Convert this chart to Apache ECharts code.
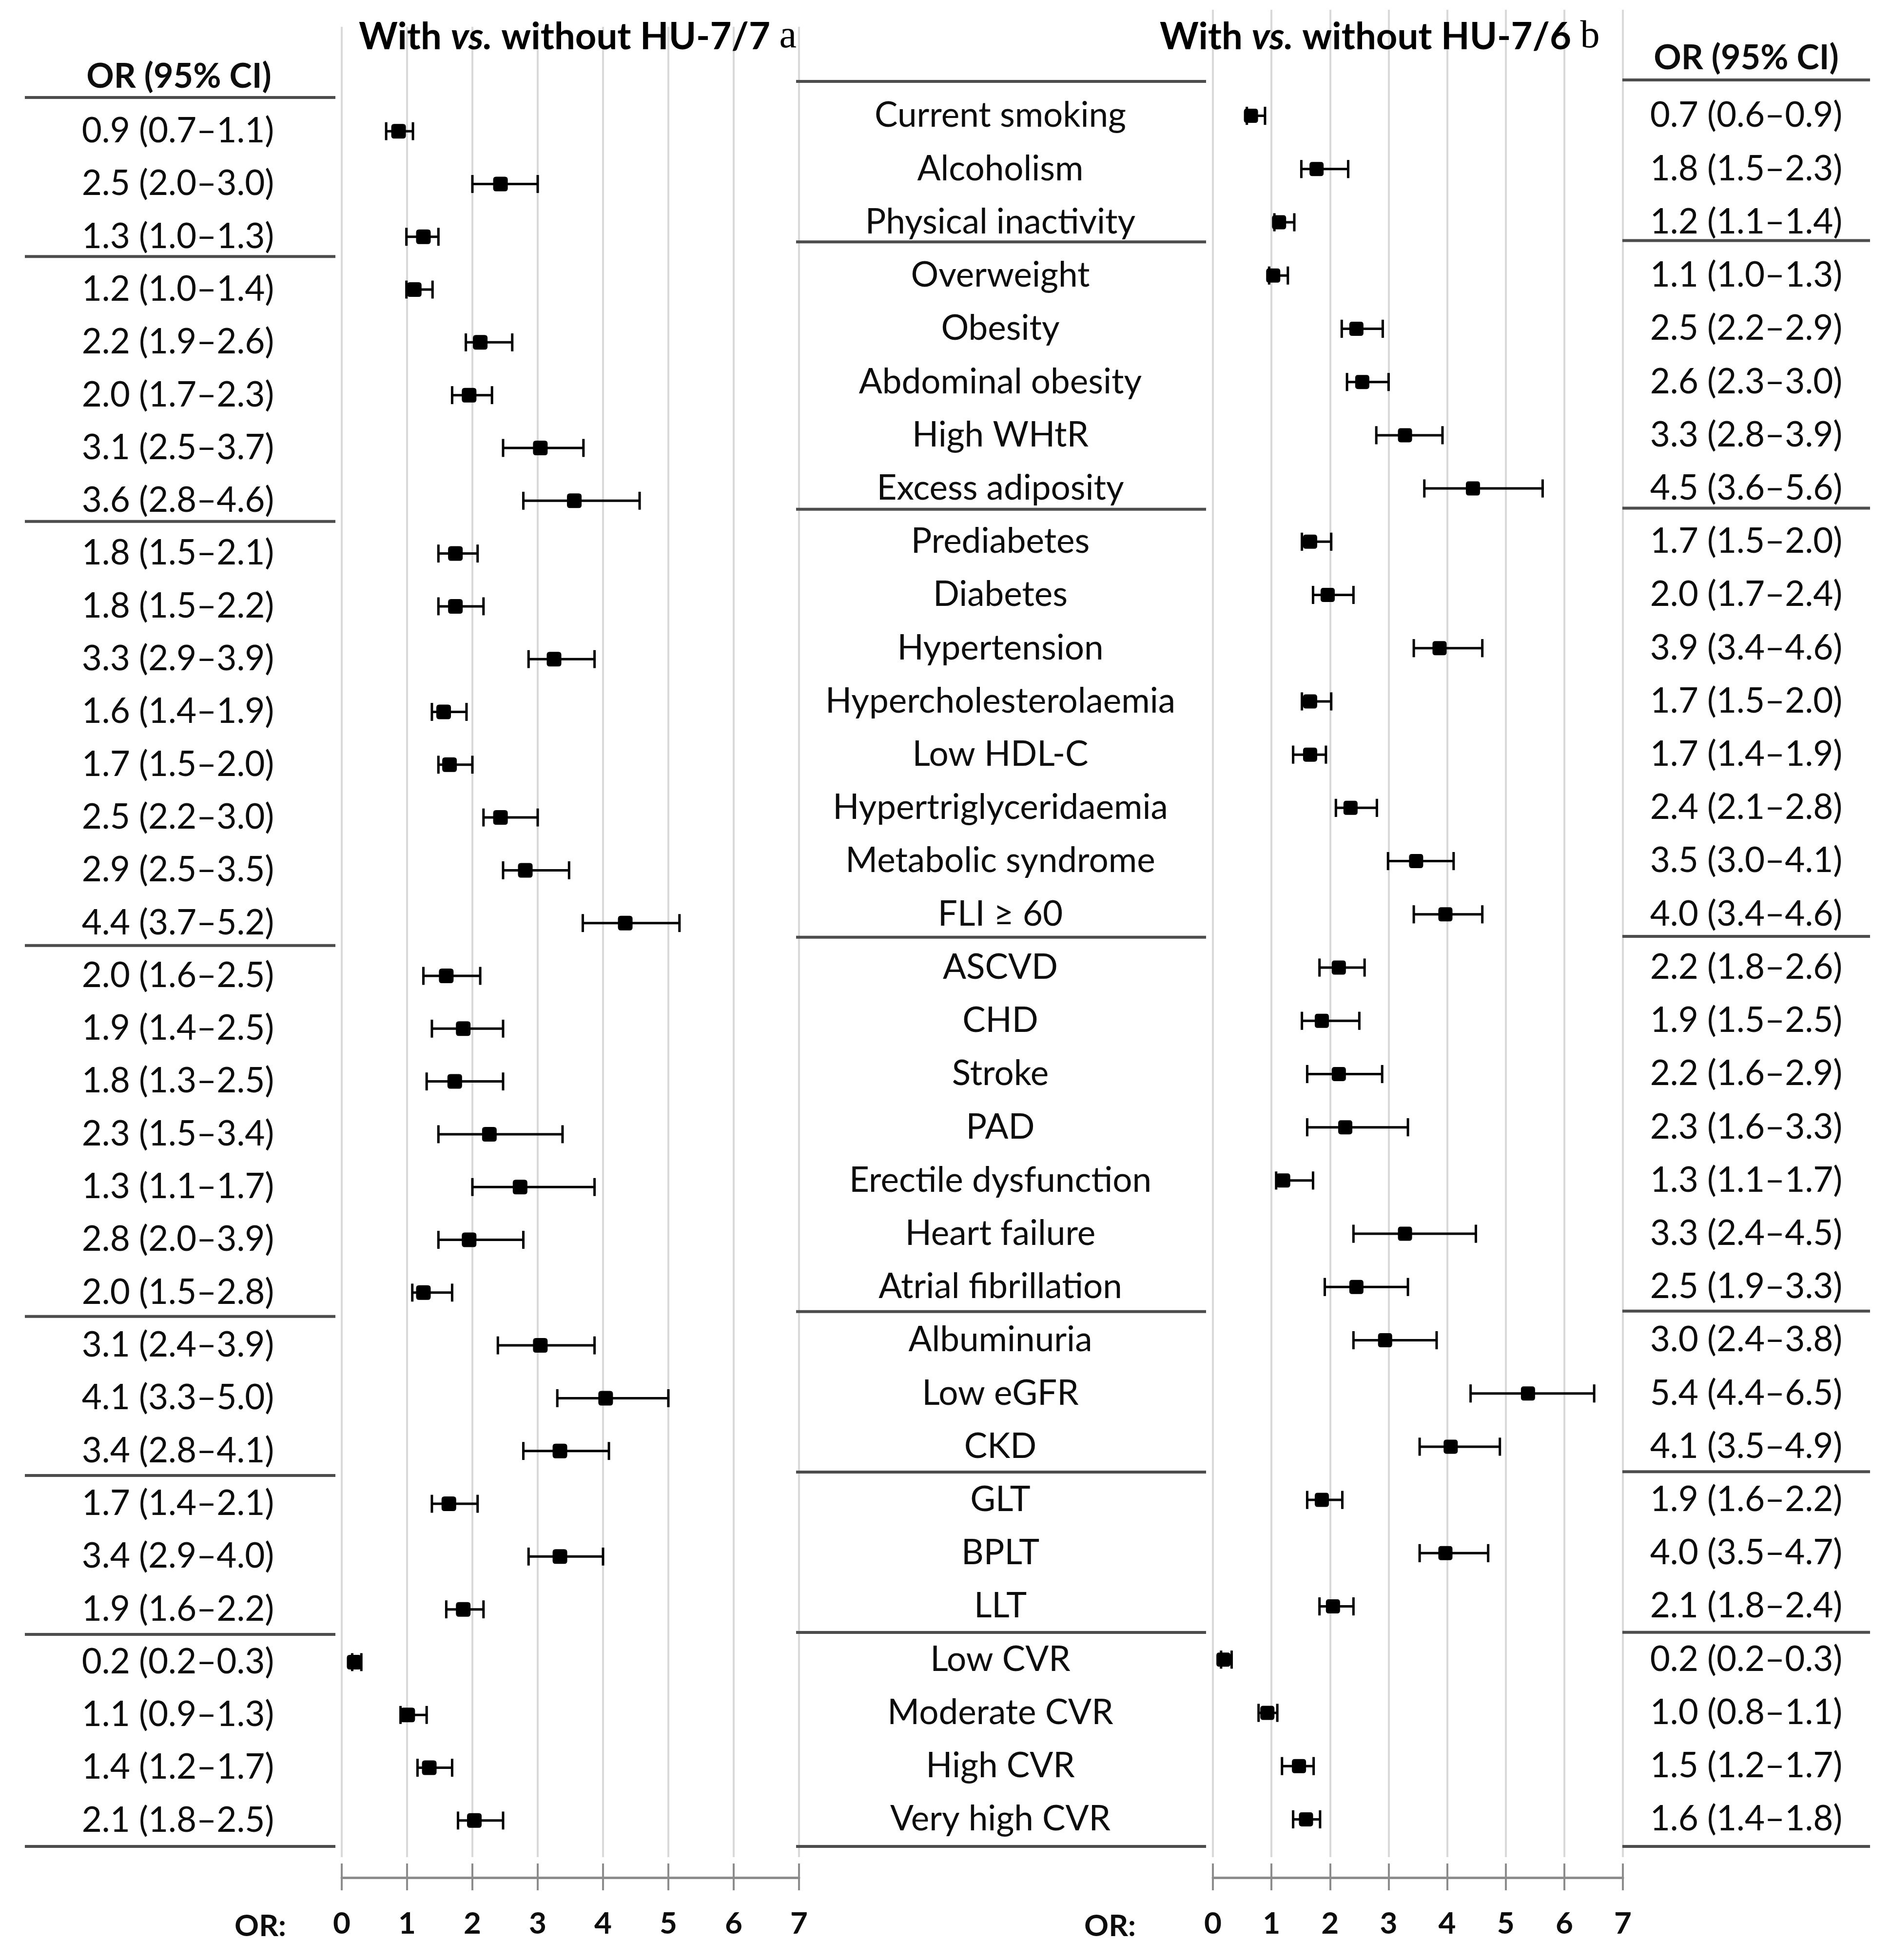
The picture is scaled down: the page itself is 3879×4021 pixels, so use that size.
<!DOCTYPE html>
<html>
<head>
<meta charset="utf-8">
<script src="https://cdn.jsdelivr.net/npm/echarts@6/dist/echarts.min.js"></script>
<style>
html,body{margin:0;padding:0;background:#fff;}
#c{width:3879px;height:4021px;}
</style>
</head>
<body>
<div id="c"></div>
<script>
// ---------------- DATA ----------------
const leftCIText = ["0.9 (0.7–1.1)","2.5 (2.0–3.0)","1.3 (1.0–1.3)","1.2 (1.0–1.4)","2.2 (1.9–2.6)","2.0 (1.7–2.3)","3.1 (2.5–3.7)","3.6 (2.8–4.6)","1.8 (1.5–2.1)","1.8 (1.5–2.2)","3.3 (2.9–3.9)","1.6 (1.4–1.9)","1.7 (1.5–2.0)","2.5 (2.2–3.0)","2.9 (2.5–3.5)","4.4 (3.7–5.2)","2.0 (1.6–2.5)","1.9 (1.4–2.5)","1.8 (1.3–2.5)","2.3 (1.5–3.4)","1.3 (1.1–1.7)","2.8 (2.0–3.9)","2.0 (1.5–2.8)","3.1 (2.4–3.9)","4.1 (3.3–5.0)","3.4 (2.8–4.1)","1.7 (1.4–2.1)","3.4 (2.9–4.0)","1.9 (1.6–2.2)","0.2 (0.2–0.3)","1.1 (0.9–1.3)","1.4 (1.2–1.7)","2.1 (1.8–2.5)"];
// plotted points of panel a (as drawn)
const leftOR = [0.87,2.43,1.25,1.11,2.12,1.95,3.04,3.56,1.74,1.74,3.25,1.56,1.65,2.43,2.81,4.34,1.60,1.86,1.73,2.26,2.73,1.95,1.25,3.04,4.04,3.34,1.64,3.34,1.86,0.19,1.01,1.34,2.03];
const leftLo = [0.68,2.00,0.99,0.99,1.90,1.69,2.47,2.78,1.48,1.48,2.86,1.38,1.48,2.17,2.47,3.69,1.25,1.38,1.30,1.48,2.00,1.48,1.08,2.39,3.30,2.78,1.38,2.86,1.60,0.16,0.90,1.16,1.78];
const leftHi = [1.09,3.00,1.48,1.39,2.61,2.30,3.70,4.56,2.08,2.17,3.87,1.91,2.00,3.00,3.48,5.17,2.12,2.47,2.47,3.38,3.87,2.78,1.69,3.87,5.00,4.09,2.08,4.00,2.17,0.30,1.30,1.69,2.47];

const categories = ["Current smoking","Alcoholism","Physical inactivity","Overweight","Obesity","Abdominal obesity","High WHtR","Excess adiposity","Prediabetes","Diabetes","Hypertension","Hypercholesterolaemia","Low HDL-C","Hypertriglyceridaemia","Metabolic syndrome","FLI ≥ 60","ASCVD","CHD","Stroke","PAD","Erectile dysfunction","Heart failure","Atrial fibrillation","Albuminuria","Low eGFR","CKD","GLT","BPLT","LLT","Low CVR","Moderate CVR","High CVR","Very high CVR"];
const rightCIText = ["0.7 (0.6–0.9)","1.8 (1.5–2.3)","1.2 (1.1–1.4)","1.1 (1.0–1.3)","2.5 (2.2–2.9)","2.6 (2.3–3.0)","3.3 (2.8–3.9)","4.5 (3.6–5.6)","1.7 (1.5–2.0)","2.0 (1.7–2.4)","3.9 (3.4–4.6)","1.7 (1.5–2.0)","1.7 (1.4–1.9)","2.4 (2.1–2.8)","3.5 (3.0–4.1)","4.0 (3.4–4.6)","2.2 (1.8–2.6)","1.9 (1.5–2.5)","2.2 (1.6–2.9)","2.3 (1.6–3.3)","1.3 (1.1–1.7)","3.3 (2.4–4.5)","2.5 (1.9–3.3)","3.0 (2.4–3.8)","5.4 (4.4–6.5)","4.1 (3.5–4.9)","1.9 (1.6–2.2)","4.0 (3.5–4.7)","2.1 (1.8–2.4)","0.2 (0.2–0.3)","1.0 (0.8–1.1)","1.5 (1.2–1.7)","1.6 (1.4–1.8)"];
const rightOR = [0.65,1.77,1.13,1.03,2.45,2.55,3.28,4.44,1.66,1.96,3.87,1.66,1.66,2.35,3.47,3.97,2.15,1.86,2.15,2.26,1.20,3.28,2.45,2.94,5.38,4.06,1.86,3.97,2.05,0.18,0.93,1.47,1.59];
const rightLo = [0.58,1.51,1.05,0.96,2.20,2.29,2.79,3.61,1.52,1.71,3.43,1.52,1.37,2.10,2.99,3.43,1.82,1.52,1.61,1.61,1.08,2.40,1.91,2.40,4.40,3.53,1.61,3.53,1.82,0.14,0.78,1.18,1.37];
const rightHi = [0.89,2.31,1.39,1.28,2.90,3.00,3.92,5.63,2.02,2.40,4.60,2.02,1.93,2.80,4.11,4.60,2.59,2.50,2.89,3.33,1.71,4.49,3.33,3.82,6.51,4.90,2.21,4.70,2.40,0.32,1.10,1.72,1.83];

const groupBoundaries = [0, 3, 8, 16, 23, 26, 29, 33];
const xTicks = [0, 1, 2, 3, 4, 5, 6, 7];
const titleA = "With |vs.| without HU-7/7 |a";
const titleB = "With |vs.| without HU-7/6 |b";
const headerText = "OR (95% CI)";
const axisPrefix = "OR:";

// ---------------- CHART ----------------
const FONT = 'Lato';
const TXT = '#0d0d0d';
const chart = echarts.init(document.getElementById('c'), null, {renderer: 'canvas'});

const nRows = leftCIText.length;
const xMin = xTicks[0], xMax = xTicks[xTicks.length - 1];
const SQUARE = 'path://M2,0 L8,0 Q10,0 10,2 L10,8 Q10,10 8,10 L2,10 Q0,10 0,8 L0,2 Q0,0 2,0 Z';

const grids = [
  {left: 701, width: 938, top: 55, height: 3755},    // 0 left background gridlines
  {left: 701, width: 938, top: 3823, height: 29},    // 1 left axis
  {left: 701, width: 938, top: 215, height: 3574},   // 2 left data
  {left: 51, width: 637, top: 200, height: 3588},    // 3 left separators
  {left: 2488, width: 841, top: 20, height: 3790},   // 4 right background
  {left: 2488, width: 841, top: 3823, height: 29},   // 5 right axis
  {left: 2488, width: 841, top: 183, height: 3604},  // 6 right data
  {left: 1633, width: 841, top: 167, height: 3621},  // 7 middle separators
  {left: 3328, width: 508, top: 164, height: 3624}   // 8 right CI separators
];

function bgX(g) {
  return {gridIndex: g, type: 'value', min: xMin, max: xMax, interval: 1,
    axisLine: {show: false}, axisTick: {show: false}, axisLabel: {show: false},
    splitLine: {show: true, lineStyle: {color: '#d9d9d9', width: 4}}};
}
function axisX(g) {
  return {gridIndex: g, type: 'value', min: xMin, max: xMax, interval: 1, position: 'bottom',
    axisLine: {show: true, lineStyle: {color: '#8c8c8c', width: 5}},
    axisTick: {show: true, length: 26, lineStyle: {color: '#8c8c8c', width: 4}},
    axisLabel: {show: true, margin: 64, fontSize: 62, lineHeight: 62, fontWeight: 'bold', fontFamily: FONT, color: TXT},
    splitLine: {show: true, lineStyle: {color: '#8c8c8c', width: 4}}};
}
function hiddenX(g, mn, mx) {
  return {gridIndex: g, type: 'value', min: mn, max: mx, show: false, splitLine: {show: false}};
}
function hiddenY(g, mn, mx, inv) {
  return {gridIndex: g, type: 'value', min: mn, max: mx, inverse: !!inv, show: false, splitLine: {show: false}};
}
function catY(g, labels, pos, margin) {
  return {gridIndex: g, type: 'category', data: labels, inverse: true, position: pos,
    axisLine: {show: false}, axisTick: {show: false}, splitLine: {show: false},
    axisLabel: {show: true, interval: 0, align: 'center', margin: margin, fontSize: 71, fontFamily: FONT, color: TXT}};
}

const xAxis = [
  bgX(0), axisX(1), hiddenX(2, xMin, xMax), hiddenX(3, 0, 1),
  bgX(4), axisX(5), hiddenX(6, xMin, xMax), hiddenX(7, 0, 1), hiddenX(8, 0, 1)
];
const yAxis = [
  hiddenY(0, 0, 1), hiddenY(1, 0, 1), catY(2, leftCIText, 'left', 336), hiddenY(3, 0, nRows, true),
  hiddenY(4, 0, 1), hiddenY(5, 0, 1), catY(6, categories, 'left', 436), hiddenY(7, 0, nRows, true), hiddenY(8, 0, nRows, true),
  catY(6, rightCIText, 'right', 253)
];

function errorBarSeries(xi, yi, lo, hi) {
  return {
    type: 'custom', xAxisIndex: xi, yAxisIndex: yi, z: 3,
    data: lo.map((v, i) => [v, hi[i], i]),
    encode: {x: [0, 1], y: 2},
    renderItem: function (params, api) {
      const p1 = api.coord([api.value(0), api.value(2)]);
      const p2 = api.coord([api.value(1), api.value(2)]);
      const h = api.size([0, 1])[1] * 0.17;
      const st = {stroke: '#000', lineWidth: 5};
      return {type: 'group', children: [
        {type: 'line', shape: {x1: p1[0], y1: p1[1], x2: p2[0], y2: p2[1]}, style: st},
        {type: 'line', shape: {x1: p1[0], y1: p1[1] - h, x2: p1[0], y2: p1[1] + h}, style: st},
        {type: 'line', shape: {x1: p2[0], y1: p2[1] - h, x2: p2[0], y2: p2[1] + h}, style: st}
      ]};
    }
  };
}
function pointSeries(xi, yi, or, size) {
  return {type: 'scatter', xAxisIndex: xi, yAxisIndex: yi, z: 4,
    symbol: SQUARE, symbolSize: size, itemStyle: {color: '#000', opacity: 1},
    data: or.map((v, i) => [v, i])};
}
function separatorSeries(idx) {
  return {
    type: 'custom', xAxisIndex: idx, yAxisIndex: idx, z: 2,
    data: groupBoundaries.map(b => [0, b]),
    encode: {x: 0, y: 1},
    renderItem: function (params, api) {
      const y = api.coord([0, api.value(1)])[1];
      const cs = params.coordSys;
      return {type: 'line', shape: {x1: cs.x, y1: y, x2: cs.x + cs.width, y2: y},
        style: {stroke: '#4d4d4d', lineWidth: 6}};
    }
  };
}

function richTitle(str, left, top) {
  const parts = str.split('|');
  return {
    text: '{b|' + parts[0] + '}{i|' + parts[1] + '}{b|' + parts[2] + '}{s|' + parts[3] + '}',
    left: left, top: top, padding: 0,
    textStyle: {
      rich: {
        b: {fontFamily: FONT, fontWeight: 'bold', fontSize: 76, lineHeight: 80, color: '#000'},
        i: {fontFamily: FONT, fontWeight: 'bold', fontStyle: 'italic', fontSize: 76, lineHeight: 80, color: '#000'},
        s: {fontFamily: 'Liberation Serif', fontWeight: 'normal', fontSize: 80, lineHeight: 80, color: '#000'}
      }
    }
  };
}
function plainTitle(text, cx, top, size) {
  return {text: text, left: cx, top: top, textAlign: 'center', padding: 0,
    textStyle: {fontFamily: FONT, fontWeight: 'bold', fontSize: size, lineHeight: size, color: TXT}};
}

chart.setOption({
  animation: false,
  backgroundColor: '#fff',
  title: [
    richTitle(titleA, 736, 36),
    richTitle(titleB, 2379, 36),
    plainTitle(headerText, 367, 122, 70),
    plainTitle(headerText, 3582, 84, 70),
    plainTitle(axisPrefix, 534, 3921, 62),
    plainTitle(axisPrefix, 2277, 3921, 62)
  ],
  grid: grids,
  xAxis: xAxis,
  yAxis: yAxis,
  series: [
    errorBarSeries(2, 2, leftLo, leftHi),
    pointSeries(2, 2, leftOR, 30),
    errorBarSeries(6, 6, rightLo, rightHi),
    pointSeries(6, 6, rightOR, 29),
    separatorSeries(3),
    separatorSeries(7),
    separatorSeries(8)
  ]
});
</script>
</body>
</html>
